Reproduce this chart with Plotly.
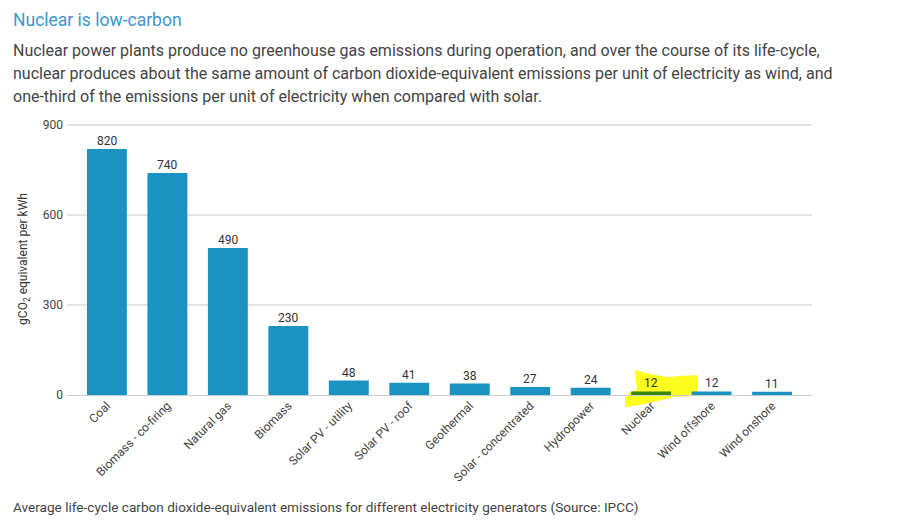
import plotly.graph_objects as go

# Categories and values
zrodla = ["Coal", "Biomass - co-firing", "Natural gas", "Biomass", "Solar PV - utility",
          "Solar PV - roof", "Geothermal", "Solar - concentrated", "Hydropower",
          "Nuclear", "Wind offshore", "Wind onshore"]
emisje = [820, 740, 490, 230, 48, 41, 38, 27, 24, 12, 12, 11]
y_ticks = [0, 300, 600, 900]

tytul = "Nuclear is low-carbon"
akapit = [
    "Nuclear power plants produce no greenhouse gas emissions during operation, and over the course of its life-cycle,",
    "nuclear produces about the same amount of carbon dioxide-equivalent emissions per unit of electricity as wind, and",
    "one-third of the emissions per unit of electricity when compared with solar.",
]
podpis = "Average life-cycle carbon dioxide-equivalent emissions for different electricity generators (Source: IPCC)"

W, H = 897, 522
# Obszar wykresu 2 px wyzej niz siatka 900, inaczej plotly ucina linie przy krawedzi
LEFT, RIGHT, TOP, BOTTOM = 67, 812, 123, 395
Y_MAX = 900 * (BOTTOM - TOP) / 270
FONT = "Roboto, Arial, sans-serif"

kolory = ["#37860f" if z == "Nuclear" else "#1a93c2" for z in zrodla]


def paper_x(px):
    return (px - LEFT) / (RIGHT - LEFT)


def paper_y(py):
    return (BOTTOM - py) / (BOTTOM - TOP)


fig = go.Figure(go.Bar(
    x=zrodla, y=emisje, width=0.66, marker=dict(color=kolory, line=dict(width=0)),
    cliponaxis=False,
))

# Zakreslacz wokol slupka Nuclear (pozycje w pikselach strony)
obrys = [(635, 370), (640, 371), (645, 373), (655, 375), (667, 377), (680, 376), (697, 375),
         (698, 384), (697, 392), (692, 396), (672, 397), (670, 398), (653, 402), (640, 405),
         (625, 407), (625, 398), (630, 392), (637, 390), (636, 380)]
sciezka = "M " + " L ".join(f"{paper_x(a):.4f},{paper_y(b):.4f}" for a, b in obrys) + " Z"
fig.add_shape(type="path", path=sciezka, xref="paper", yref="paper",
              fillcolor="#fdfd1e", line=dict(width=0), layer="between")

# Etykiety wartosci
for z, v in zip(zrodla, emisje):
    fig.add_annotation(x=z, y=v, text=str(v), showarrow=False, yanchor="bottom", yshift=-1,
                       font=dict(family=FONT, size=12, color="#333333"))

# Teksty strony nad i pod wykresem
fig.add_annotation(text=tytul, x=paper_x(11), y=paper_y(20), xref="paper", yref="paper",
                   xanchor="left", yanchor="middle", showarrow=False,
                   font=dict(family=FONT, size=17.5, color="#3d97cc"))
for tekst, py in zip(akapit, [50.5, 73.5, 96.5]):
    fig.add_annotation(text=tekst, x=paper_x(11), y=paper_y(py), xref="paper", yref="paper",
                       xanchor="left", yanchor="middle", showarrow=False,
                       font=dict(family=FONT, size=16, color="#444444"))
fig.add_annotation(text=podpis, x=paper_x(11), y=paper_y(507), xref="paper", yref="paper",
                   xanchor="left", yanchor="middle", showarrow=False,
                   font=dict(family=FONT, size=13.6, color="#444444"))

fig.update_layout(
    width=W, height=H,
    margin=dict(l=LEFT, r=W - RIGHT, t=TOP, b=H - BOTTOM, pad=0),
    paper_bgcolor="white", plot_bgcolor="white",
    showlegend=False,
    xaxis=dict(range=[-0.66, 11.66], tickangle=-45, ticks="", showgrid=False,
               showline=True, linecolor="#cccccc", linewidth=1, ticklabelstandoff=-2,
               tickfont=dict(family=FONT, size=12, color="#444444")),
    yaxis=dict(range=[0, Y_MAX], tickvals=y_ticks, ticks="", gridcolor="#e4e4e4", gridwidth=2,
               zeroline=False, ticklabelstandoff=3,
               tickfont=dict(family=FONT, size=12, color="#444444"),
               title=dict(text="gCO<sub>2</sub> equivalent per kWh", standoff=12,
                          font=dict(family=FONT, size=12, color="#333333"))),
)

fig.write_html("out.html", config=dict(displayModeBar=False),
               post_script="document.body.style.margin='0';")
